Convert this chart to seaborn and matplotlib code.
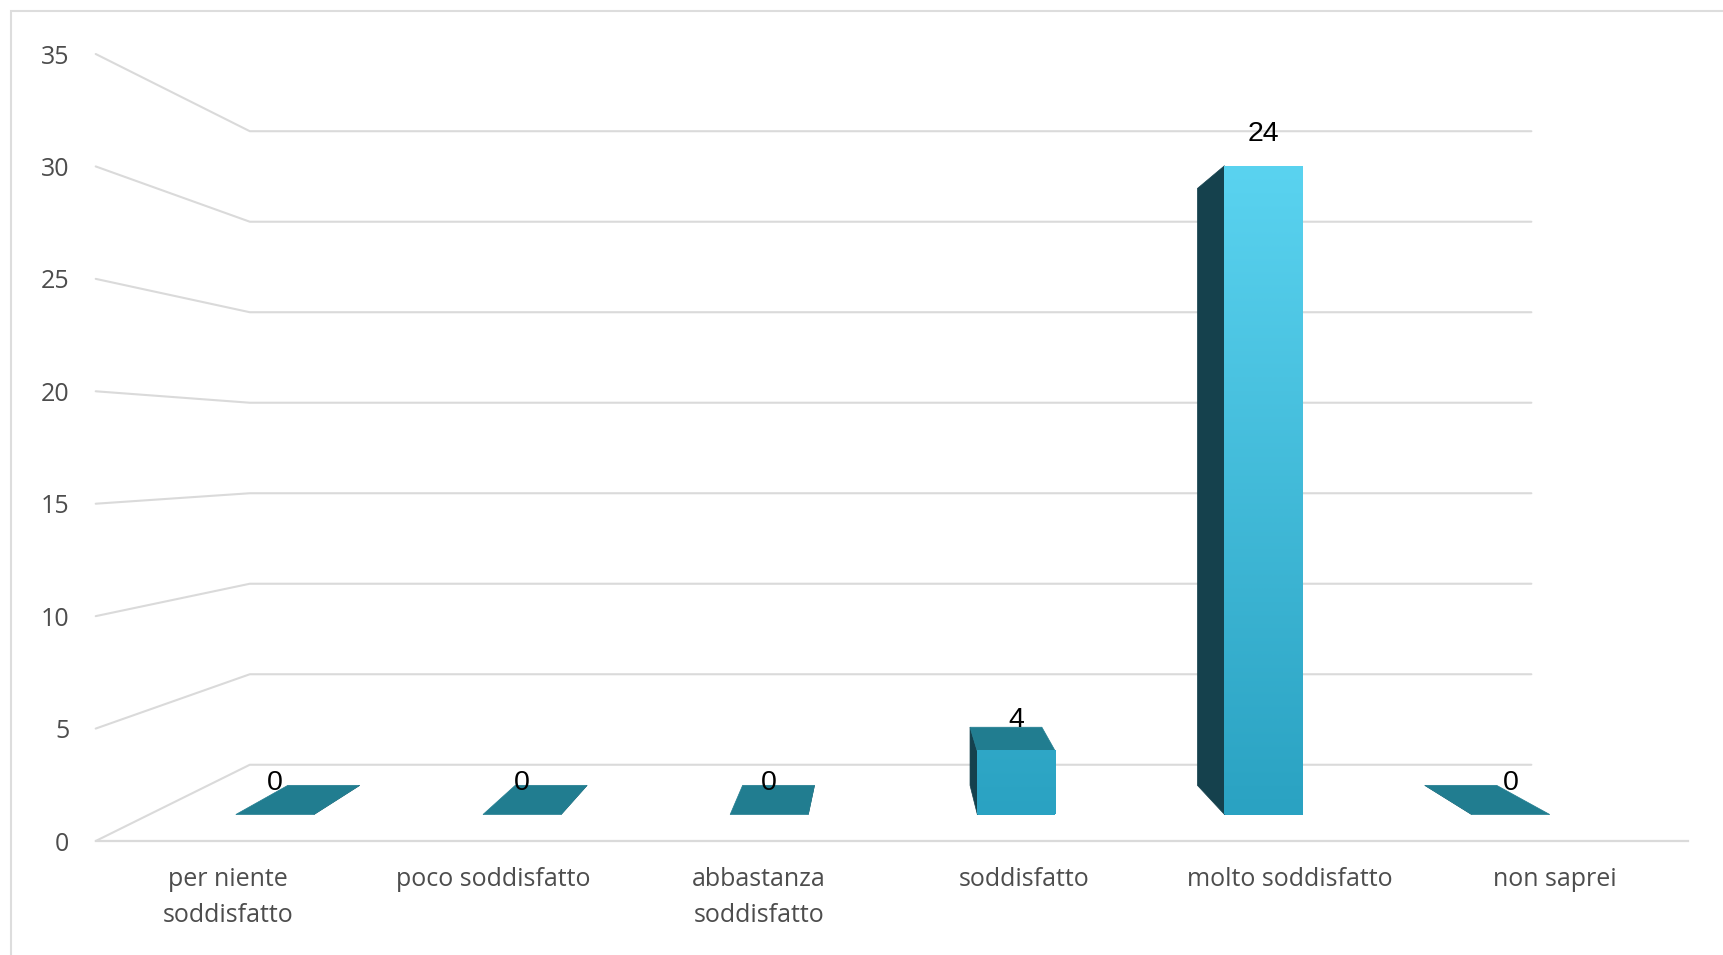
import numpy as np
import pandas as pd
import matplotlib
matplotlib.use("Agg")
import matplotlib.pyplot as plt
import seaborn as sns
from matplotlib.patches import Polygon, Rectangle
from matplotlib.lines import Line2D
from matplotlib.transforms import IdentityTransform, Bbox
from matplotlib.image import BboxImage
from matplotlib.colors import to_rgba

# ---------------- data ----------------
categories = ["per niente\nsoddisfatto", "poco soddisfatto", "abbastanza\nsoddisfatto",
              "soddisfatto", "molto soddisfatto", "non saprei"]
values = [0, 0, 0, 4, 24, 0]
y_ticks = [0, 5, 10, 15, 20, 25, 30, 35]

# ---------------- style ----------------
W, H, DPI = 1724, 955, 100
FRONT_TOP = "#5AD3F0"
FRONT_BOTTOM = "#2AA2C2"
TOP_FACE = "#217D90"
SIDE_FACE = "#15414D"
GRID_C = "#dadada"
TEXT_C = "#4d4d4d"

sns.set_theme(style="white")
plt.rcParams["font.family"] = ["Open Sans", "DejaVu Sans"]

fig = plt.figure(figsize=(W / DPI, H / DPI), dpi=DPI)
fig.patch.set_facecolor("white")

# outer frame
fig.add_artist(Rectangle((11 / W, -0.05), 1.2, 1 - 11 / H + 0.05, transform=fig.transFigure,
                         fill=False, ec="#dddddd", lw=1.5))

# ---------------- front axis (labels / frame) ----------------
ax_l, ax_r, ax_b, ax_t = 95.7, 1687.7, 841.0, 54.0
ax = fig.add_axes([ax_l / W, 1 - ax_b / H, (ax_r - ax_l) / W, (ax_b - ax_t) / H])
ax.set_facecolor("none")
ax.set_xlim(-0.5, len(categories) - 0.5)
ax.set_ylim(min(y_ticks), max(y_ticks))
ax.set_xticks(range(len(categories)))
ax.set_xticklabels(categories, fontsize=18, color=TEXT_C, linespacing=1.6)
ax.set_yticks(y_ticks)
ax.set_yticklabels([str(t) for t in y_ticks], fontsize=18, color=TEXT_C)
ax.tick_params(axis="x", length=0, pad=18.5)
ax.tick_params(axis="y", length=0, pad=19)
for s in ["left", "right", "top"]:
    ax.spines[s].set_visible(False)
ax.spines["bottom"].set_color(GRID_C)
ax.spines["bottom"].set_linewidth(1.6)
ax.grid(False)

# perspective helper (display pixel space)
VP = np.array([886.0, H - 450.0])
WALL_D = 0.195
BAR_D = 0.08


def persp(p, d):
    p = np.asarray(p, float)
    return p + (VP - p) * d


# wall grid lines derived from the y ticks
x_lo, x_hi = ax.get_xlim()
for v in y_ticks:
    F = ax.transData.transform((x_lo, v))
    Fr = ax.transData.transform((x_hi, v))
    B = persp(F, WALL_D)
    R = persp(Fr, WALL_D)
    ax.add_line(Line2D([F[0], B[0], R[0]], [F[1], B[1], R[1]], transform=IdentityTransform(),
                       color=GRID_C, lw=1.5, clip_on=False, zorder=0.5))

# ---------------- bars ----------------
bx_l, bx_r, base_y, top_y = 151.3, 1634.3, 814.5, 165.7
bx = fig.add_axes([bx_l / W, 1 - base_y / H, (bx_r - bx_l) / W, (base_y - top_y) / H])
bx.set_facecolor("none")
P = 1.3
bx.set_yscale("function", functions=(lambda v: np.power(np.clip(v, 0, None), P),
                                     lambda u: np.power(np.clip(u, 0, None), 1 / P)))
df = pd.DataFrame({"categoria": categories, "valore": values})
sns.barplot(data=df, x="categoria", y="valore", ax=bx, color=FRONT_BOTTOM, saturation=1,
            width=0.316, errorbar=None, edgecolor="none", linewidth=0)
bx.set_xlim(-0.5, len(categories) - 0.5)
bx.set_ylim(0, max(values))
bx.axis("off")

g_base = bx.transData.transform((0, 0))[1]
g_top = bx.transData.transform((0, max(values)))[1]
c_top = np.array(to_rgba(FRONT_TOP))
c_bot = np.array(to_rgba(FRONT_BOTTOM))

for p in bx.patches:
    (x0, y0), (x1, y1) = bx.transData.transform(
        [(p.get_x(), p.get_y()), (p.get_x() + p.get_width(), p.get_y() + p.get_height())])
    faces = []
    if x0 > VP[0]:
        faces.append(([(x0, y0), (x0, y1), persp((x0, y1), BAR_D), persp((x0, y0), BAR_D)], SIDE_FACE))
    if x1 < VP[0]:
        faces.append(([(x1, y0), (x1, y1), persp((x1, y1), BAR_D), persp((x1, y0), BAR_D)], SIDE_FACE))
    if y1 < VP[1]:
        faces.append(([(x0, y1), (x1, y1), persp((x1, y1), BAR_D), persp((x0, y1), BAR_D)], TOP_FACE))
    for verts, col in faces:
        bx.add_patch(Polygon(verts, closed=True, fc=col, ec=col, lw=0.5,
                             transform=IdentityTransform(), clip_on=False, zorder=2))
    if y1 - y0 > 1:
        ys = np.linspace(y1, y0, 256)
        t = np.clip((ys - g_base) / (g_top - g_base), 0, 1)[:, None]
        arr = (c_bot * (1 - t) + c_top * t)[:, None, :]
        im = BboxImage(Bbox([[x0, y0], [x1, y1]]), interpolation="bilinear", origin="upper")
        im.set_data(arr)
        im.set_zorder(3)
        bx.add_artist(im)

for i, v in enumerate(values):
    bx.annotate(str(v), xy=(i, v), xytext=(0, 22.5), textcoords="offset points",
                ha="center", va="center", fontsize=20.5, family=["Liberation Sans", "DejaVu Sans"],
                color="black", annotation_clip=False, zorder=6)

fig.savefig("out.png", dpi=DPI, facecolor="white")
